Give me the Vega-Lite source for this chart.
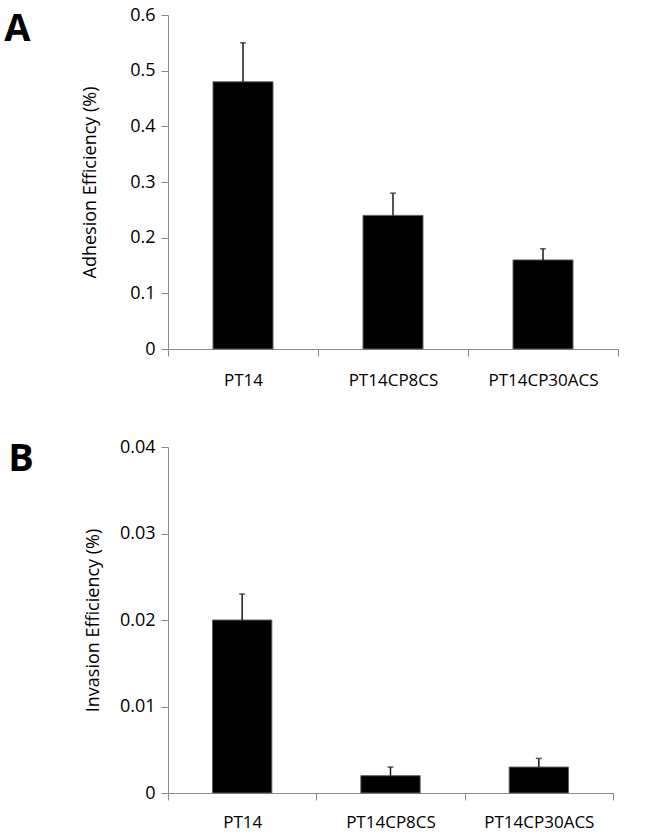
{
  "$schema": "https://vega.github.io/schema/vega-lite/v6.json",
  "padding": {"left": 4, "top": 6, "right": 0, "bottom": 6},
  "background": "white",
  "datasets": {
    "adhesion": [
      {"strain": "PT14", "value": 0.48, "upper": 0.55},
      {"strain": "PT14CP8CS", "value": 0.24, "upper": 0.28},
      {"strain": "PT14CP30ACS", "value": 0.16, "upper": 0.18}
    ],
    "invasion": [
      {"strain": "PT14", "value": 0.02, "upper": 0.023},
      {"strain": "PT14CP8CS", "value": 0.002, "upper": 0.003},
      {"strain": "PT14CP30ACS", "value": 0.003, "upper": 0.004}
    ]
  },
  "config": {
    "font": "Open Sans",
    "view": {"stroke": null},
    "axis": {
      "domainColor": "#8a8a8a",
      "tickColor": "#8a8a8a",
      "domainWidth": 1,
      "tickWidth": 1,
      "grid": false,
      "labelColor": "#000000",
      "titleColor": "#000000",
      "labelFontSize": 17,
      "titleFontSize": 18,
      "titleFontWeight": "normal",
      "labelFont": "Open Sans",
      "titleFont": "Open Sans"
    },
    "title": {"font": "Open Sans", "fontSize": 38, "fontWeight": "bold", "color": "#000000"}
  },
  "align": "none",
  "vconcat": [
    {
      "width": 450,
      "height": 334,
      "data": {"name": "adhesion"},
      "title": {"text": "A", "orient": "left", "anchor": "end", "angle": 0, "align": "right", "baseline": "top", "offset": 25, "dy": 5},
      "encoding": {
        "x": {"field": "strain", "type": "nominal", "sort": null,
              "scale": {"paddingInner": 0, "paddingOuter": 0},
              "axis": {"title": null, "labelAngle": 0, "tickBand": "extent", "tickSize": 7, "labelPadding": 16}},
        "y": {"field": "value", "type": "quantitative",
              "scale": {"domain": [0, 0.6]},
              "axis": {"title": "Adhesion Efficiency (%)", "values": [0, 0.1, 0.2, 0.3, 0.4, 0.5, 0.6], "format": "~g", "tickSize": 7, "labelPadding": 6, "labelFontSize": 18, "titlePadding": 30}}
      },
      "layer": [
        {"mark": {"type": "bar", "color": "#000000", "stroke": "#606060", "strokeWidth": 1, "width": {"band": 0.4}}},
        {"mark": {"type": "rule", "color": "#1a1a1a", "strokeWidth": 1.5}, "encoding": {"y2": {"field": "upper"}}},
        {"mark": {"type": "tick", "color": "#1a1a1a", "size": 6, "thickness": 1.5}, "encoding": {"y": {"field": "upper", "type": "quantitative"}}}
      ]
    },
    {
      "width": 445,
      "height": 346,
      "data": {"name": "invasion"},
      "title": {"text": "B", "orient": "left", "anchor": "end", "angle": 0, "align": "right", "baseline": "top", "offset": 25, "dy": 3},
      "encoding": {
        "x": {"field": "strain", "type": "nominal", "sort": null,
              "scale": {"paddingInner": 0, "paddingOuter": 0},
              "axis": {"title": null, "labelAngle": 0, "tickBand": "extent", "tickSize": 7, "labelPadding": 14}},
        "y": {"field": "value", "type": "quantitative",
              "scale": {"domain": [0, 0.04]},
              "axis": {"title": "Invasion Efficiency (%)", "values": [0, 0.01, 0.02, 0.03, 0.04], "format": "~g", "tickSize": 7, "labelPadding": 6, "labelFontSize": 18, "titlePadding": 17}}
      },
      "layer": [
        {"mark": {"type": "bar", "color": "#000000", "stroke": "#606060", "strokeWidth": 1, "width": {"band": 0.4}}},
        {"mark": {"type": "rule", "color": "#1a1a1a", "strokeWidth": 1.5}, "encoding": {"y2": {"field": "upper"}}},
        {"mark": {"type": "tick", "color": "#1a1a1a", "size": 6, "thickness": 1.5}, "encoding": {"y": {"field": "upper", "type": "quantitative"}}}
      ]
    }
  ],
  "spacing": 50
}
